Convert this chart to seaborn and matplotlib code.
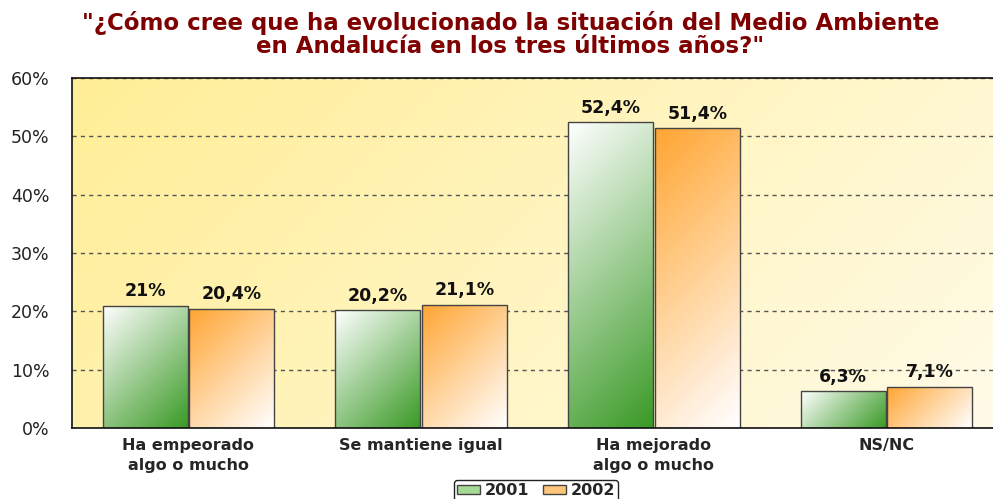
import numpy as np
import pandas as pd
import matplotlib
matplotlib.use('Agg')
import matplotlib.pyplot as plt
import seaborn as sns
from matplotlib.colors import to_rgb
from matplotlib.patches import Patch

categories = ['Ha empeorado\nalgo o mucho', 'Se mantiene igual',
              'Ha mejorado\nalgo o mucho', 'NS/NC']
years = ['2001', '2002']
values_2001 = [21.0, 20.2, 52.4, 6.3]
values_2002 = [20.4, 21.1, 51.4, 7.1]
labels_2001 = ['21%', '20,2%', '52,4%', '6,3%']
labels_2002 = ['20,4%', '21,1%', '51,4%', '7,1%']
title = '"¿Cómo cree que ha evolucionado la situación del Medio Ambiente\nen Andalucía en los tres últimos años?"'

df = pd.DataFrame({
    'categoria': categories * 2,
    'anio': [years[0]] * 4 + [years[1]] * 4,
    'valor': values_2001 + values_2002,
})

sns.set_style('white')
plt.rcParams['font.family'] = ['DejaVu Sans']

fig = plt.figure(figsize=(9.93, 4.99), dpi=100)
ax = fig.add_axes([72 / 993, 1 - 428 / 499, 931 / 993, 350 / 499])

sns.barplot(data=df, x='categoria', y='valor', hue='anio', order=categories,
            hue_order=years, palette=['#8cc97c', '#ffb55a'], width=0.745,
            gap=0.02, edgecolor='#444444', linewidth=1.0, legend=False, ax=ax)

ax.set_xlim(-0.5, 3.5)
ax.set_ylim(0, 60)


def gradient(c0, c1, w_px=100, h_px=100, n=80):
    # 45 degree gradient in pixel space, from top-left to bottom-right
    u = np.linspace(0, 1, n)
    uu, vv = np.meshgrid(u, u)
    t = (uu * w_px + vv * h_px) / (w_px + h_px)
    c0, c1 = np.array(to_rgb(c0)), np.array(to_rgb(c1))
    return c0 + (c1 - c0) * t[..., None]


# axes background: yellow top-left fading to cream bottom-right
ax.set_facecolor('none')
bg = gradient('#ffee96', '#fffbe8', 931, 350)
ax.imshow(bg, extent=[0, 1, 0, 1], transform=ax.transAxes, aspect='auto',
          zorder=-5, interpolation='bilinear')

px_x = 931 / 4.0
px_y = 350 / 60.0
n = len(categories)
for i, bar in enumerate(ax.patches[:2 * n]):
    x0, w, h = bar.get_x(), bar.get_width(), bar.get_height()
    if i < n:
        img = gradient('#ffffff', '#3a9a26', w * px_x, h * px_y)
    else:
        img = gradient('#ffa533', '#ffffff', w * px_x, h * px_y)
    im = ax.imshow(img, extent=[x0, x0 + w, 0, h], aspect='auto',
                   origin='upper', zorder=bar.get_zorder() + 0.1,
                   interpolation='bilinear')
    im.set_clip_path(bar)
    bar.set_facecolor('none')
    bar.set_zorder(bar.get_zorder() + 0.2)

ax.set_xlim(-0.5, 3.5)
ax.set_ylim(0, 60)

for i, bar in enumerate(ax.patches[:2 * n]):
    text = labels_2001[i] if i < n else labels_2002[i - n]
    ax.annotate(text, (bar.get_x() + bar.get_width() / 2, bar.get_height()),
                xytext=(0, 4), textcoords='offset points', ha='center',
                va='bottom', fontsize=12.5, fontweight='bold', color='#111111')

ax.set_yticks(range(0, 61, 10))
ax.set_yticklabels([f'{v}%' for v in range(0, 61, 10)], fontsize=12.5,
                   color='#222222')
ax.set_xticks(range(n))
ax.set_xticklabels(categories, fontsize=11.5, fontweight='bold',
                   linespacing=1.4)
ax.tick_params(axis='y', length=0, pad=16)
ax.tick_params(axis='x', length=0, pad=7)
ax.set_xlabel('')
ax.set_ylabel('')

ax.set_axisbelow(True)
ax.yaxis.grid(True, color='#555555', linestyle=(0, (3, 3)), linewidth=1.0,
              zorder=0)
for side in ['left', 'bottom', 'top']:
    ax.spines[side].set_color('#111111')
    ax.spines[side].set_linewidth(1.2)
ax.spines['right'].set_visible(False)

fig.text(0.514, 0.978, title, ha='center', va='top', fontsize=16.5,
         fontweight='bold', color='#7f0000', linespacing=1.0)

handles = [Patch(facecolor='#a6d898', edgecolor='#444444', label='2001'),
           Patch(facecolor='#ffc57a', edgecolor='#444444', label='2002')]
fig.legend(handles=handles, loc='lower center', bbox_to_anchor=(0.54, -0.02),
           ncol=2, frameon=True, fancybox=True, edgecolor='#222222',
           framealpha=1, prop={'weight': 'bold', 'size': 11.5},
           handlelength=1.4, handleheight=0.5, handletextpad=0.3,
           columnspacing=0.9, borderpad=0.2)

fig.savefig('out.png', dpi=100)
